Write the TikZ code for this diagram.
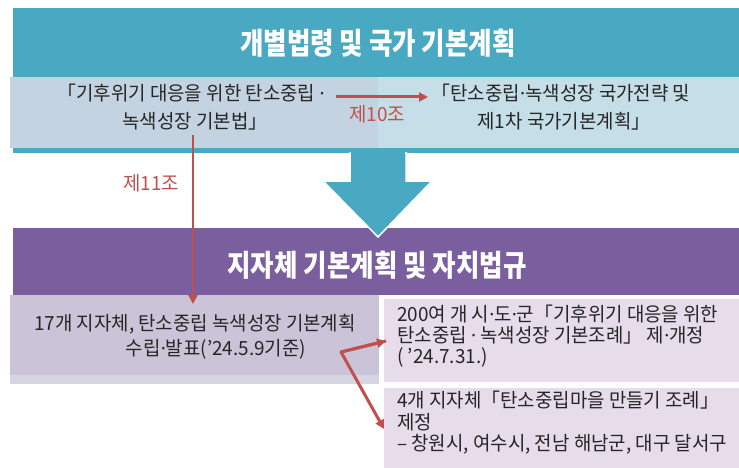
\documentclass[tikz,border=0pt]{standalone}
\usepackage{fontspec}
\setmainfont[FakeStretch=0.97]{Noto Sans CJK KR}
\newfontfamily\hdrfont[FakeStretch=0.85]{Noto Sans CJK KR}
\newfontfamily\latinf[FakeStretch=0.97]{Noto Sans}
\newcommand{\md}{{\latinf ·}}
\usetikzlibrary{arrows.meta}
\definecolor{teal1}{HTML}{49A9C2}
\definecolor{lbl}{HTML}{C3D3E1}
\definecolor{lbr}{HTML}{C5DEE7}
\definecolor{purp}{HTML}{7B5E9E}
\definecolor{lav}{HTML}{CBC3D8}
\definecolor{lavs}{HTML}{D8D5E2}
\definecolor{lavr}{HTML}{E6DCEA}
\definecolor{redc}{HTML}{C0504D}
\definecolor{txt}{HTML}{262626}
\tikzset{
  hdr/.style={text=white, font=\hdrfont\fontsize{30}{33}\selectfont\bfseries, inner sep=0pt},
  body/.style={text=txt, font=\fontsize{19.5}{23}\selectfont, inner sep=0pt, text height=0.72em, text depth=0.1em},
  redlbl/.style={text=redc, font=\fontsize{19.5}{23}\selectfont, inner sep=0pt, text height=0.72em, text depth=0.1em},
  redarrow/.style={draw=redc, line width=3pt, -{Triangle[length=9pt,width=9pt]}},
}
\begin{document}
\begin{tikzpicture}[x=1pt,y=-1pt]
\useasboundingbox (0,0) rectangle (739,468);
% top band
\fill[teal1] (13,8) rectangle (739,153);
\fill[lbl] (10,77) rectangle (378,148);
\fill[lbr] (378,77) rectangle (739,148);
\node[hdr] (h1) at (378,43) {개별법령 및 국가 기본계획};
% purple band
\fill[purp] (13,228) rectangle (739,295);
\node[hdr] (h2) at (377,265) {지자체 기본계획 및 자치법규};
% big down arrow
\filldraw[fill=teal1, draw=white, line width=1.5pt, line join=miter]
  (350,153) -- (406,153) -- (406,181) -- (432,181) -- (378,237) -- (323,181) -- (350,181) -- cycle;
\fill[teal1] (351,150) rectangle (405,156);
% lower boxes
\fill[lavs] (10,295) rectangle (379,384);
\fill[lav] (10,295) rectangle (379,375);
\fill[lavr] (384,299) rectangle (739,382);
\fill[lavr] (384,388) rectangle (739,468);
% top texts
\node[body] (a1) at (191,97) {「기후위기 대응을 위한 탄소중립 \md};
\node[body] (a2) at (195,125) {녹색성장 기본법」};
\node[body] (b1) at (561,97) {「탄소중립\md 녹색성장 국가전략 및};
\node[body] (b2) at (564,125) {제1차 국가기본계획」};
\node[redlbl] (l10) at (377,118) {제10조};
\node[redlbl] (l11) at (151,187) {제11조};
% lower texts
\node[body] (c1) at (195,327) {17개 지자체, 탄소중립 녹색성장 기본계획};
\node[body] (c2) at (216,352) {수립\md 발표(’24.5.9기준)};
\node[body, anchor=west] (d1) at (397,318) {200여 개 시\md 도\md 군「기후위기 대응을 위한};
\node[body, anchor=west] (d2) at (397,339) {탄소중립 \md\ 녹색성장 기본조례」 제\md 개정};
\node[body, anchor=west] (d3) at (397,360) {( ’24.7.31.)};
\node[body, anchor=west] (e1) at (397,404) {4개 지자체「탄소중립마을 만들기 조례」};
\node[body, anchor=west] (e2) at (397,426) {제정};
\node[body, anchor=west] (e3) at (397,447) {– 창원시, 여수시, 전남 해남군, 대구 달서구};
% red connectors
\coordinate (p10a) at (336,97);
\coordinate (p10b) at (428,97);
\coordinate (p11a) at (193,135);
\coordinate (p11b) at (193,304);
\coordinate (fork) at (341,352);
\coordinate (t1) at (386,341);
\coordinate (t2) at (384,429);
\draw[redarrow] (p10a) -- (p10b);
\draw[redarrow, line width=2.4pt] (p11a) -- (p11b);
\draw[redarrow, line join=round] (t1) -- (fork) -- (t2);
\draw[redarrow] (fork) -- (t1);
\end{tikzpicture}
\end{document}
